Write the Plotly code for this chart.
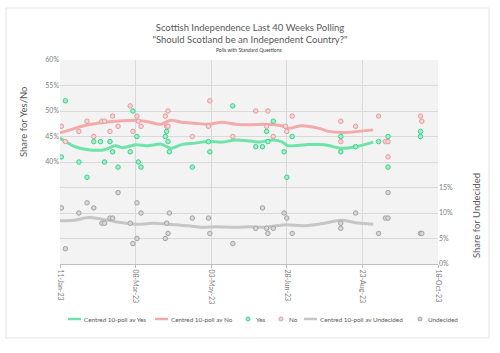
import plotly.graph_objects as go

# ---------------- data ----------------
yes_dates = ["2023-01-12", "2023-01-15", "2023-01-25", "2023-01-31", "2023-02-05", "2023-02-10",
             "2023-02-13", "2023-02-17", "2023-02-19", "2023-02-23", "2023-03-04", "2023-03-06",
             "2023-03-09", "2023-03-10", "2023-03-12", "2023-03-30", "2023-03-31", "2023-04-01",
             "2023-04-02", "2023-04-19", "2023-05-01", "2023-05-02", "2023-05-19", "2023-06-05",
             "2023-06-10", "2023-06-13", "2023-06-14", "2023-06-18", "2023-06-26", "2023-06-28",
             "2023-07-02", "2023-08-07", "2023-08-07", "2023-08-18", "2023-09-04", "2023-09-11",
             "2023-09-11", "2023-10-05", "2023-10-05"]
yes_vals = [41, 52, 40, 37, 44, 44, 40, 44, 42, 39, 42, 50, 45, 40, 39, 45, 46, 44, 42, 39, 44, 42,
            51, 43, 43, 46, 44, 48, 42, 37, 45, 45, 42, 43, 44, 45, 39, 45, 46]

no_dates = ["2023-01-12", "2023-01-15", "2023-01-25", "2023-01-31", "2023-02-05", "2023-02-11",
            "2023-02-13", "2023-02-17", "2023-02-19", "2023-02-23", "2023-03-04", "2023-03-06",
            "2023-03-09", "2023-03-10", "2023-03-12", "2023-03-30", "2023-03-31", "2023-04-01",
            "2023-04-01", "2023-04-19", "2023-05-01", "2023-05-02", "2023-05-19", "2023-06-05",
            "2023-06-13", "2023-06-14", "2023-06-18", "2023-06-27", "2023-06-28", "2023-07-02",
            "2023-08-07", "2023-08-07", "2023-08-18", "2023-09-04", "2023-09-09", "2023-09-11",
            "2023-09-11", "2023-10-05", "2023-10-06"]
no_vals = [47, 44, 46, 48, 45, 48, 48, 46, 49, 47, 51, 46, 49, 48, 47, 49, 47, 50, 47, 45, 47, 52,
           45, 50, 47, 50, 45, 47, 46, 49, 48, 44, 47, 49, 44, 44, 41, 49, 48]

und_dates = ["2023-01-12", "2023-01-15", "2023-01-25", "2023-01-31", "2023-02-05", "2023-02-11",
             "2023-02-13", "2023-02-17", "2023-02-19", "2023-02-23", "2023-03-04", "2023-03-06",
             "2023-03-09", "2023-03-09", "2023-03-12", "2023-03-30", "2023-03-31", "2023-04-01",
             "2023-04-02", "2023-04-19", "2023-05-01", "2023-05-02", "2023-05-19", "2023-06-05",
             "2023-06-10", "2023-06-13", "2023-06-14", "2023-06-18", "2023-06-26", "2023-06-28",
             "2023-07-02", "2023-08-07", "2023-08-07", "2023-08-18", "2023-09-04", "2023-09-09",
             "2023-09-11", "2023-09-11", "2023-10-05", "2023-10-06"]
und_vals = [11, 3, 10, 12, 11, 8, 8, 9, 9, 14, 8, 4, 12, 5, 10, 5, 8, 6, 10, 9, 9, 6, 4, 7, 11, 7,
            6, 7, 10, 9, 6, 8, 7, 10, 6, 9, 9, 14, 6, 6]

yes_avg_dates = ["2023-01-11", "2023-01-22", "2023-02-01", "2023-02-13", "2023-02-21", "2023-02-26",
                 "2023-03-08", "2023-03-17", "2023-03-27", "2023-04-03", "2023-04-11", "2023-04-21",
                 "2023-05-01", "2023-05-11", "2023-05-21", "2023-06-01", "2023-06-07", "2023-06-17",
                 "2023-06-24", "2023-06-29", "2023-07-12", "2023-07-26", "2023-08-07", "2023-08-18",
                 "2023-08-31"]
yes_avg = [44.7, 43.0, 42.4, 42.4, 43.2, 42.8, 43.4, 43.2, 43.5, 42.7, 43.4, 43.7, 44.0, 43.9, 44.3,
           44.1, 43.9, 44.3, 44.0, 43.2, 43.4, 43.4, 42.7, 43.0, 43.9]

no_avg_dates = ["2023-01-11", "2023-01-22", "2023-02-01", "2023-02-13", "2023-02-26", "2023-03-09",
                "2023-03-17", "2023-03-27", "2023-04-03", "2023-04-11", "2023-04-21", "2023-05-01",
                "2023-05-11", "2023-05-21", "2023-06-01", "2023-06-12", "2023-06-24", "2023-06-29",
                "2023-07-09", "2023-07-22", "2023-07-29", "2023-08-10", "2023-08-31"]
no_avg = [45.7, 46.6, 47.3, 47.8, 48.1, 48.2, 47.9, 47.4, 48.2, 47.8, 47.6, 47.4, 47.8, 47.4, 47.3,
          47.4, 47.1, 46.6, 47.1, 46.6, 46.0, 45.8, 46.3]

und_avg_dates = ["2023-01-11", "2023-01-22", "2023-02-01", "2023-02-11", "2023-02-21", "2023-03-09",
                 "2023-03-22", "2023-04-01", "2023-04-16", "2023-04-26", "2023-05-06", "2023-05-21",
                 "2023-06-01", "2023-06-12", "2023-06-27", "2023-07-12", "2023-07-26", "2023-08-07",
                 "2023-08-18", "2023-08-31"]
und_avg = [8.5, 8.6, 9.1, 8.8, 8.3, 7.8, 8.0, 7.8, 7.5, 7.2, 7.3, 7.2, 7.3, 7.2, 7.7, 7.5, 8.0, 8.6,
           8.1, 7.8]

x_tick_vals = ["2023-01-11", "2023-03-08", "2023-05-03", "2023-06-28", "2023-08-23", "2023-10-18"]
x_tick_text = ["11-Jan-23", "08-Mar-23", "03-May-23", "28-Jun-23", "23-Aug-23", "18-Oct-23"]
y_tick_vals = [40, 45, 50, 55, 60]
y2_tick_vals = [0, 5, 10, 15]

# ---------------- styling ----------------
W, H = 500, 353
ML, MR, MT, MB = 60, 62, 60, 89
PW, PH = W - ML - MR, H - MT - MB
FONT = "Lato, 'Open Sans', sans-serif"
TXT = "#595959"
TICK = "#808080"
GRID = "#d9d9d9"

C_YES_LINE = "#6ee3aa"
C_NO_LINE = "#f2aaaa"
C_UND_LINE = "#c6c6c6"
C_YES_M, C_YES_ML = "#9af2c6", "#3cd28c"
C_NO_M, C_NO_ML = "#fad4d4", "#e29c9c"
C_UND_M, C_UND_ML = "#d8d8d8", "#a2a2a2"


def px_x(p):
    return (p - ML) / PW


def px_y(p):
    return (H - MB - p) / PH


fig = go.Figure()
fig.add_trace(go.Scatter(x=yes_avg_dates, y=yes_avg, mode="lines", name="Centred 10-poll av Yes",
                         line=dict(color=C_YES_LINE, width=3, shape="spline", smoothing=0.8)))
fig.add_trace(go.Scatter(x=no_avg_dates, y=no_avg, mode="lines", name="Centred 10-poll av No",
                         line=dict(color=C_NO_LINE, width=3, shape="spline", smoothing=0.8)))
fig.add_trace(go.Scatter(x=yes_dates, y=yes_vals, mode="markers", name="Yes",
                         marker=dict(size=4.5, color=C_YES_M, line=dict(color=C_YES_ML, width=1))))
fig.add_trace(go.Scatter(x=no_dates, y=no_vals, mode="markers", name="No",
                         marker=dict(size=4.5, color=C_NO_M, line=dict(color=C_NO_ML, width=1))))
fig.add_trace(go.Scatter(x=und_avg_dates, y=und_avg, mode="lines", name="Centred 10-poll av Undecided",
                         yaxis="y2",
                         line=dict(color=C_UND_LINE, width=3, shape="spline", smoothing=0.8)))
fig.add_trace(go.Scatter(x=und_dates, y=und_vals, mode="markers", name="Undecided", yaxis="y2",
                         marker=dict(size=4.5, color=C_UND_M, line=dict(color=C_UND_ML, width=1))))

fig.update_layout(
    width=W, height=H,
    margin=dict(l=ML, r=MR, t=MT, b=MB),
    paper_bgcolor="white",
    plot_bgcolor="#f3f3f3",
    showlegend=False,
    font=dict(family=FONT, color=TXT),
    title=dict(text="Scottish Independence Last 40 Weeks Polling<br>\"Should Scotland be an Independent Country?\"",
               x=0.5, xref="container", xanchor="center", y=1 - 31 / H, yref="container", yanchor="top",
               font=dict(size=9.5, color=TXT, family=FONT)),
    xaxis=dict(type="date", range=["2023-01-11", "2023-10-18"], tickmode="array",
               tickvals=x_tick_vals, ticktext=x_tick_text, tickangle=90,
               tickfont=dict(size=7, color=TICK), showgrid=True, gridcolor=GRID, gridwidth=1,
               showline=True, linecolor="#bfbfbf", ticks="outside", ticklen=3, tickcolor="#bfbfbf",
               zeroline=False),
    yaxis=dict(range=[20, 60], tickmode="array", tickvals=y_tick_vals,
               ticktext=[f"{v}%" for v in y_tick_vals], tickfont=dict(size=7, color=TICK),
               showgrid=True, gridcolor=GRID, zeroline=False, ticks="", showline=False),
    yaxis2=dict(range=[0, 40], overlaying="y", side="right", tickmode="array", tickvals=y2_tick_vals,
                ticktext=[f"{v}%" for v in y2_tick_vals], tickfont=dict(size=7, color=TICK),
                showgrid=True, gridcolor=GRID, zeroline=False, ticks="", showline=False),
)

annotations = [
    dict(text="Polls with Standard Questions", x=0.5, xref="paper", y=px_y(50), yref="paper",
         showarrow=False, font=dict(size=5, color="#404040"), xanchor="center", yanchor="middle"),
    dict(text="Share for Yes/No", x=px_x(23), y=px_y(122), xref="paper", yref="paper", textangle=-90,
         showarrow=False, font=dict(size=9.5, color=TXT), xanchor="center", yanchor="middle"),
    dict(text="Share for Undecided", x=px_x(476), y=px_y(216), xref="paper", yref="paper", textangle=-90,
         showarrow=False, font=dict(size=9.5, color=TXT), xanchor="center", yanchor="middle"),
]

shapes = [
    dict(type="rect", xref="paper", yref="paper", x0=px_x(6), x1=px_x(489), y0=px_y(338), y1=px_y(8),
         line=dict(color="#e3e3e3", width=1), fillcolor="rgba(0,0,0,0)", layer="below"),
]

# legend (drawn manually to match compact layout)
LEG_Y = 319
legend_items = [
    ("line", C_YES_LINE, None, 68, "Centred 10-poll av Yes"),
    ("line", C_NO_LINE, None, 155, "Centred 10-poll av No"),
    ("marker", C_YES_M, C_YES_ML, 244, "Yes"),
    ("marker", C_NO_M, C_NO_ML, 277, "No"),
    ("line", C_UND_LINE, None, 304, "Centred 10-poll av Undecided"),
    ("marker", C_UND_M, C_UND_ML, 416, "Undecided"),
]
for kind, c, lc, x0, label in legend_items:
    if kind == "line":
        shapes.append(dict(type="line", xref="paper", yref="paper", x0=px_x(x0), x1=px_x(x0 + 13),
                           y0=px_y(LEG_Y), y1=px_y(LEG_Y), line=dict(color=c, width=2.5)))
        tx = x0 + 14
    else:
        shapes.append(dict(type="circle", xref="paper", yref="paper", x0=px_x(x0 + 2), x1=px_x(x0 + 6),
                           y0=px_y(LEG_Y + 2), y1=px_y(LEG_Y - 2), fillcolor=c, line=dict(color=lc, width=1)))
        tx = x0 + 10
    annotations.append(dict(text=label, x=px_x(tx), y=px_y(LEG_Y), xref="paper", yref="paper",
                            showarrow=False, xanchor="left", yanchor="middle",
                            font=dict(size=6.3, color=TXT)))

fig.update_layout(annotations=annotations, shapes=shapes)
fig.write_html("out.html")
